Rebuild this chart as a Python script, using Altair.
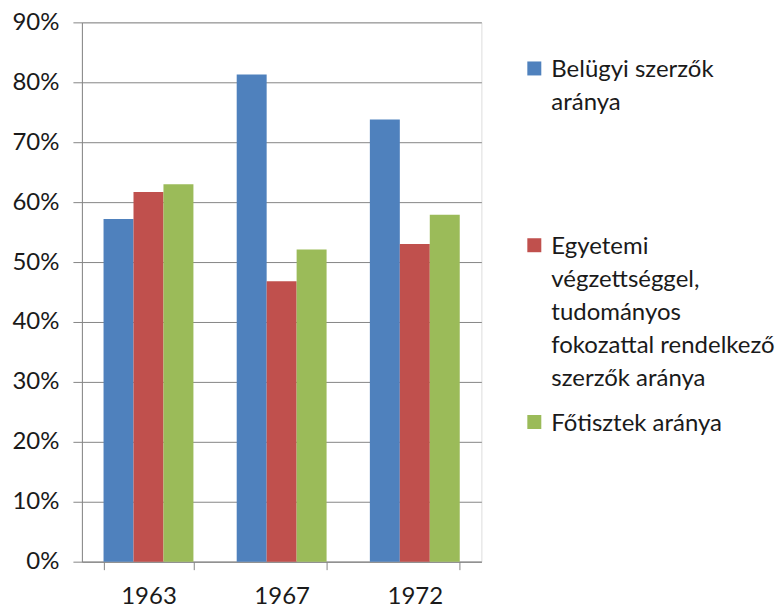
import altair as alt
import pandas as pd

years = ["1963", "1967", "1972"]
series = [
    "Belügyi szerzők aránya",
    "Egyetemi végzettséggel, tudományos fokozattal rendelkező szerzők aránya",
    "Főtisztek aránya",
]
belugyi = [0.572, 0.813, 0.738]
egyetemi = [0.617, 0.468, 0.530]
fotisztek = [0.630, 0.521, 0.579]
colors = ["#4F81BD", "#C0504D", "#9BBB59"]

# wrapped legend label lines (blank lines give the entries equal slots)
legend_lines = [
    ["Belügyi szerzők", "aránya", "", "", ""],
    ["Egyetemi", "végzettséggel,", "tudományos", "fokozattal rendelkező", "szerzők aránya"],
    ["Főtisztek aránya"],
]

rows = []
for name, vals in zip(series, [belugyi, egyetemi, fotisztek]):
    for y, v in zip(years, vals):
        rows.append({"year": y, "series": name, "value": v})
df = pd.DataFrame(rows)

def js_list(lines):
    return "[" + ", ".join("'" + s + "'" for s in lines) + "]"

label_expr = (
    f"datum.label == '{series[0]}' ? {js_list(legend_lines[0])} : "
    f"datum.label == '{series[2]}' ? {js_list(legend_lines[2])} : {js_list(legend_lines[1])}"
)

FONT = "Lato"
GRAY = "#868686"
TXT = "#1a1a1a"
FS = 24

chart = (
    alt.Chart(df)
    .mark_bar()
    .encode(
        x=alt.X(
            "year:N",
            title=None,
            sort=years,
            scale=alt.Scale(paddingInner=0.325, paddingOuter=0.1625),
            axis=alt.Axis(
                labelAngle=0,
                tickBand="extent",
                tickSize=8,
                tickColor=GRAY,
                domainColor=GRAY,
                labelPadding=15,
                labelFontSize=FS,
                labelFont=FONT,
                labelColor=TXT,
                grid=False,
            ),
        ),
        xOffset=alt.XOffset("series:N", sort=series, scale=alt.Scale(paddingInner=0, paddingOuter=0)),
        y=alt.Y(
            "value:Q",
            title=None,
            scale=alt.Scale(domain=[0, 0.9], nice=False),
            axis=alt.Axis(
                format=".0%",
                values=[i / 10 for i in range(10)],
                tickSize=9,
                tickColor=GRAY,
                domainColor=GRAY,
                gridColor=GRAY,
                labelPadding=14,
                labelFontSize=FS,
                labelFont=FONT,
                labelColor=TXT,
            ),
        ),
        color=alt.Color(
            "series:N",
            sort=series,
            scale=alt.Scale(domain=series, range=colors),
            legend=alt.Legend(
                title=None,
                orient="none",
                legendX=441,
                legendY=24,
                labelExpr=label_expr,
                labelBaseline="top",
                labelFontSize=FS,
                labelFont=FONT,
                labelColor=TXT,
                labelLimit=400,
                labelOffset=5,
                symbolType="M-1,0.45H1V2.45H-1Z",
                symbolSize=196,
                symbolStrokeWidth=0,
                rowPadding=9,
                padding=0,
            ),
        ),
    )
    .properties(width=400, height=540, padding={"left": 3, "top": 2, "right": 0, "bottom": 0})
    .configure_view(stroke=None)
    .configure(style={"guide-label": {"lineHeight": 33}})
)

chart.save("out.html", embed_options={"renderer": "svg", "actions": False})
